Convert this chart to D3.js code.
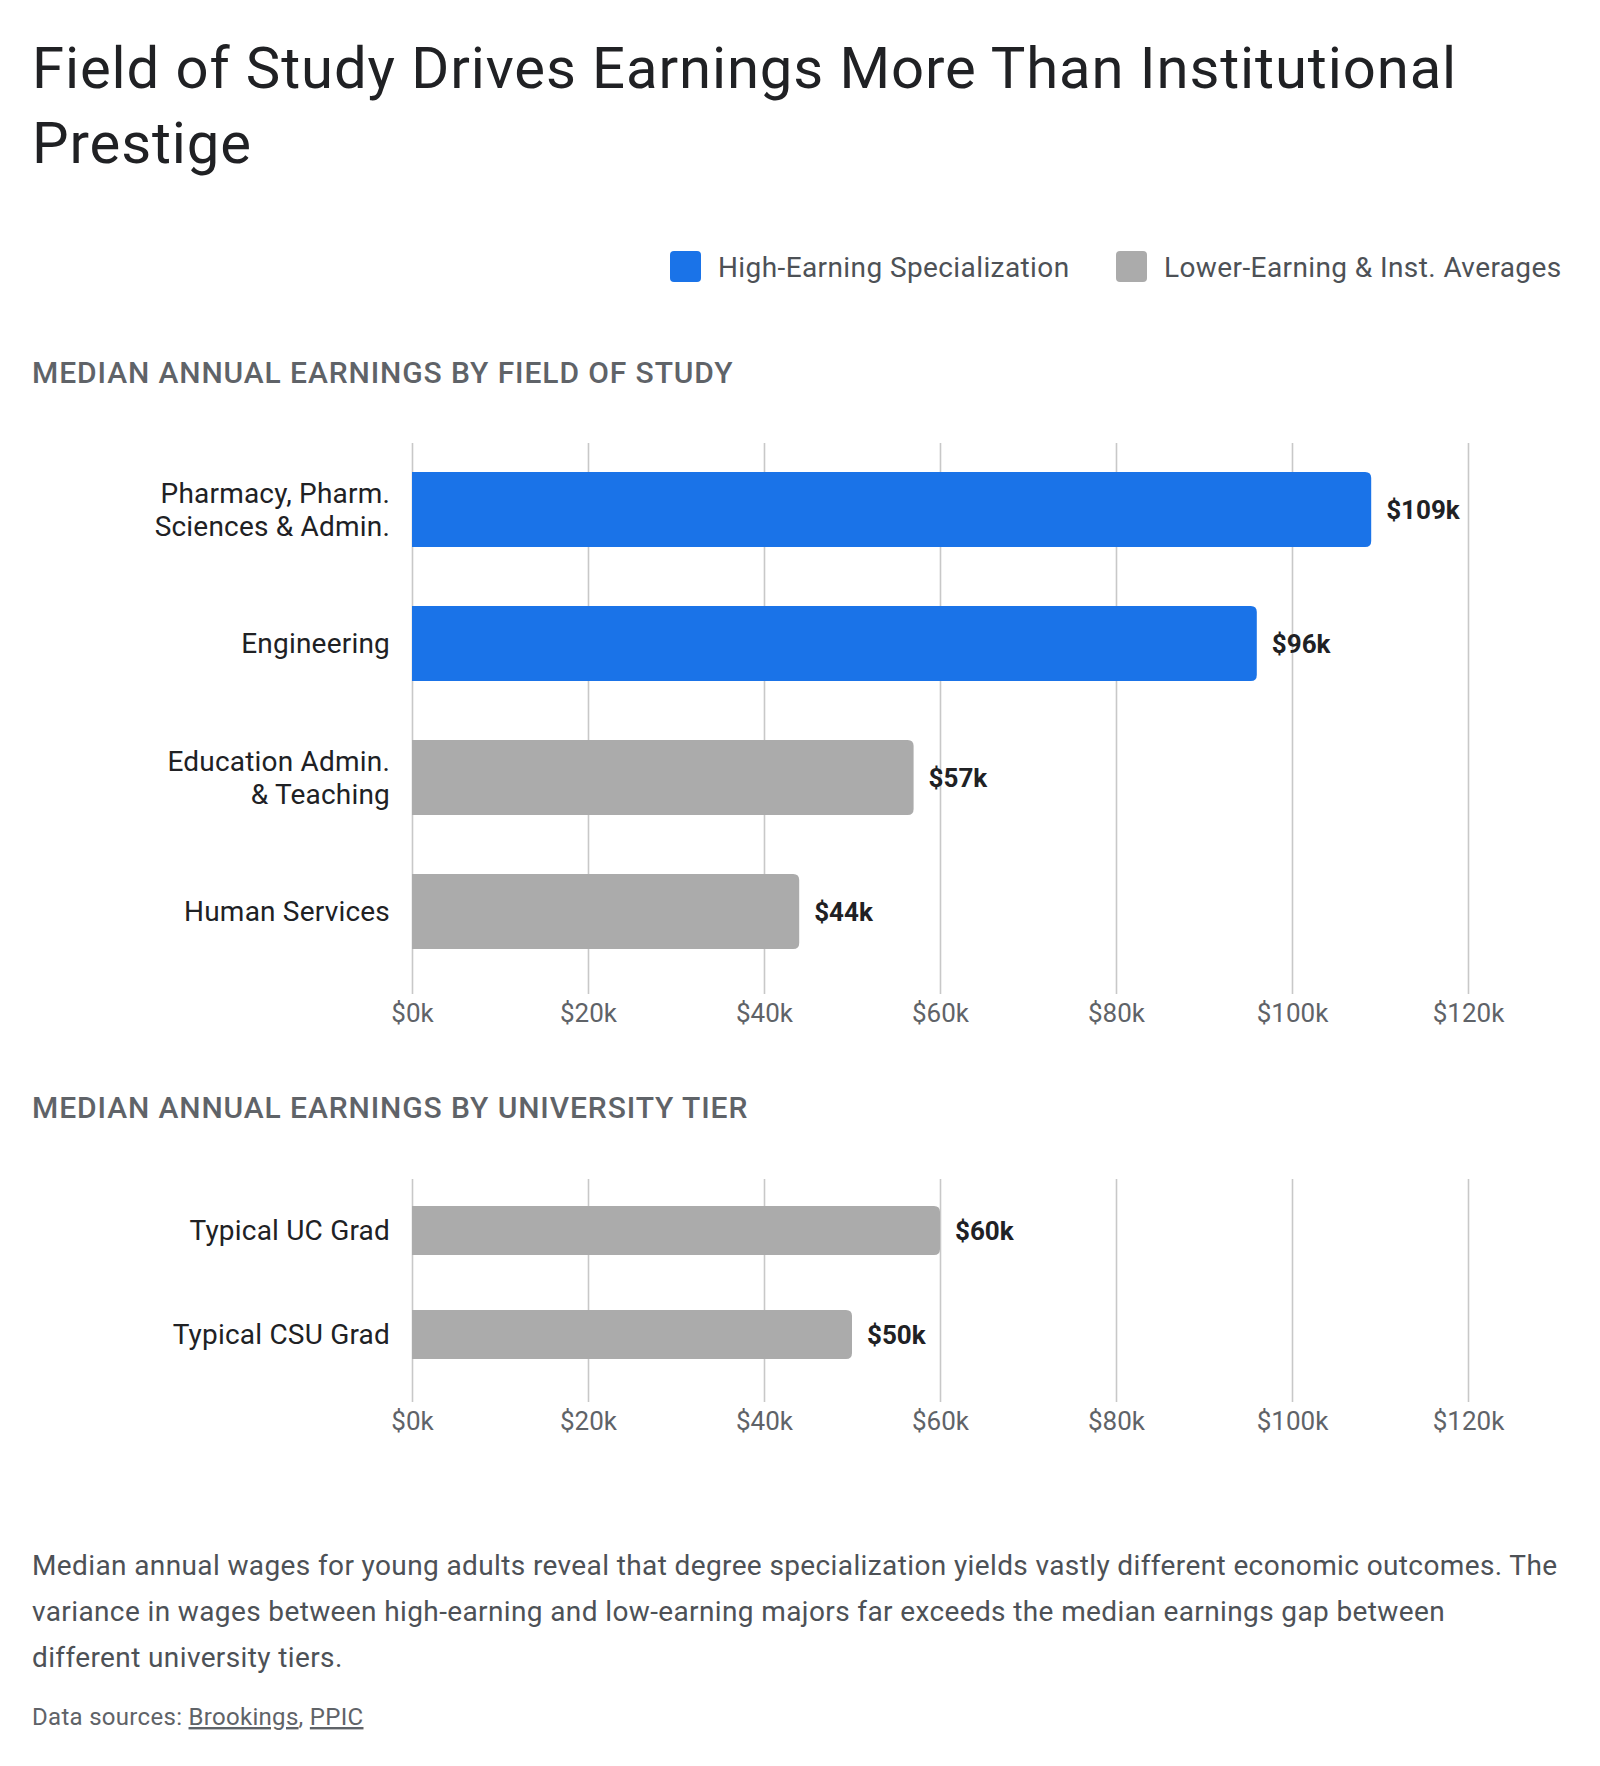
<!DOCTYPE html>
<html>
<head>
<meta charset="utf-8">
<script src="https://cdn.jsdelivr.net/npm/d3@7"></script>
<style>
  html, body { margin: 0; padding: 0; background: #ffffff; }
  svg text { font-family: Roboto, "Noto Sans", sans-serif; }
</style>
</head>
<body>
<div id="chart"></div>
<script>
// ---- data ----
var fieldCategories = ["Pharmacy, Pharm. Sciences & Admin.", "Engineering", "Education Admin. & Teaching", "Human Services"];
var fieldLabelLines = [["Pharmacy, Pharm.", "Sciences & Admin."], ["Engineering"], ["Education Admin.", "& Teaching"], ["Human Services"]];
var fieldValues = [109000, 96000, 57000, 44000];
var fieldGroups = ["high", "high", "low", "low"];

var tierCategories = ["Typical UC Grad", "Typical CSU Grad"];
var tierLabelLines = [["Typical UC Grad"], ["Typical CSU Grad"]];
var tierValues = [60000, 50000];
var tierGroups = ["low", "low"];

var tickValues = [0, 20000, 40000, 60000, 80000, 100000, 120000];
var legendKeys = ["high", "low"];
var legendLabels = ["High-Earning Specialization", "Lower-Earning & Inst. Averages"];

var titleLines = ["Field of Study Drives Earnings More Than Institutional", "Prestige"];
var panelTitles = ["MEDIAN ANNUAL EARNINGS BY FIELD OF STUDY", "MEDIAN ANNUAL EARNINGS BY UNIVERSITY TIER"];
var noteLines = [
    "Median annual wages for young adults reveal that degree specialization yields vastly different economic outcomes. The",
    "variance in wages between high-earning and low-earning majors far exceeds the median earnings gap between",
    "different university tiers."
];
var sourceLinks = ["Brookings", "PPIC"];

// ---- layout ----
var svgWidth = 1600;
var svgHeight = 1766;
var plotLeft = 412;
var plotRight = 1468;

var color = d3.scaleOrdinal().domain(legendKeys).range(["#1a73e8", "#ababab"]);
var fmt = function(d) { return "$" + (d / 1000) + "k"; };

var svg = d3.select("#chart")
    .append("svg")
    .attr("width", svgWidth)
    .attr("height", svgHeight);

svg.append("rect").attr("width", svgWidth).attr("height", svgHeight).attr("fill", "#ffffff");

// title
svg.append("g").selectAll("text")
    .data(titleLines)
    .enter()
    .append("text")
    .attr("x", 32)
    .attr("y", (d, i) => 88 + i * 75)
    .attr("font-size", 58)
    .attr("letter-spacing", 0.9)
    .attr("fill", "#202124")
    .text(d => d);

// legend
var legendX = [670, 1116];
var legend = svg.append("g").selectAll("g")
    .data(legendKeys)
    .enter()
    .append("g")
    .attr("transform", (d, i) => `translate(${legendX[i]}, 251)`);
legend.append("rect")
    .attr("width", 31)
    .attr("height", 31)
    .attr("rx", 4)
    .attr("fill", d => color(d));
legend.append("text")
    .attr("x", 48)
    .attr("y", 16)
    .attr("dy", "0.35em")
    .attr("font-size", 28)
    .attr("letter-spacing", 0.4)
    .attr("fill", "#4d5156")
    .text((d, i) => legendLabels[i]);

// rounded right end bar
function barPath(x0, y, w, h, r) {
    r = Math.min(r, w, h / 2);
    return `M${x0},${y}H${x0 + w - r}Q${x0 + w},${y} ${x0 + w},${y + r}` +
        `V${y + h - r}Q${x0 + w},${y + h} ${x0 + w - r},${y + h}H${x0}Z`;
}

function drawPanel(title, titleY, cats, labelLines, values, groups, yTop, yBottom, padIn, padOut) {
    svg.append("text")
        .attr("x", 32)
        .attr("y", titleY)
        .attr("font-size", 30)
        .attr("letter-spacing", 0.9)
        .attr("font-weight", 500)
        .attr("fill", "#5f6368")
        .text(title);

    var x = d3.scaleLinear().domain([0, 120000]).range([plotLeft, plotRight]);
    var y = d3.scaleBand().domain(cats).range([yTop, yBottom])
        .paddingInner(padIn).paddingOuter(padOut);

    var axis = d3.axisBottom(x)
        .tickValues(tickValues)
        .tickSize(-(yBottom + 16 - yTop))
        .tickPadding(10)
        .tickFormat(fmt);

    var axisG = svg.append("g")
        .attr("transform", `translate(0, ${yBottom + 16})`)
        .call(axis);
    axisG.select(".domain").remove();
    axisG.selectAll(".tick line").attr("stroke", "#c8c8c8").attr("stroke-width", 1.6);
    axisG.selectAll(".tick text")
        .attr("font-family", "Roboto, sans-serif")
        .attr("font-size", 26)
        .attr("fill", "#5f6368");

    var rows = svg.append("g").selectAll("g")
        .data(cats)
        .enter()
        .append("g");

    rows.append("path")
        .attr("d", (d, i) => barPath(x(0), y(d), x(values[i]) - x(0), y.bandwidth(), 6))
        .attr("fill", (d, i) => color(groups[i]));

    rows.append("text")
        .attr("x", (d, i) => x(values[i]) + 15)
        .attr("y", d => y(d) + y.bandwidth() / 2)
        .attr("dy", "0.35em")
        .attr("font-size", 26)
        .attr("font-weight", 700)
        .attr("fill", "#202124")
        .text((d, i) => fmt(values[i]));

    var lbl = rows.append("text")
        .attr("text-anchor", "end")
        .attr("font-size", 28)
        .attr("letter-spacing", 0.2)
        .attr("fill", "#202124");
    lbl.selectAll("tspan")
        .data((d, i) => labelLines[i].map((t, j, arr) => ({ t: t, j: j, n: arr.length, c: d })))
        .enter()
        .append("tspan")
        .attr("x", 390)
        .attr("y", d => y(d.c) + y.bandwidth() / 2 + (d.j - (d.n - 1) / 2) * 33)
        .attr("dy", "0.35em")
        .text(d => d.t);
}

drawPanel(panelTitles[0], 383, fieldCategories, fieldLabelLines, fieldValues, fieldGroups, 443, 978, 0.44, 0.2164);
drawPanel(panelTitles[1], 1118, tierCategories, tierLabelLines, tierValues, tierGroups, 1179, 1386, 0.529, 0.26);

// note
svg.append("g").selectAll("text")
    .data(noteLines)
    .enter()
    .append("text")
    .attr("x", 32)
    .attr("y", (d, i) => 1575 + i * 46)
    .attr("font-size", 28)
    .attr("letter-spacing", 0.38)
    .attr("fill", "#4d5156")
    .text(d => d);

// sources
var src = svg.append("text")
    .attr("x", 32)
    .attr("y", 1725)
    .attr("font-size", 24)
    .attr("letter-spacing", 0.3)
    .attr("fill", "#5f6368");
src.append("tspan").text("Data sources: ");
sourceLinks.forEach(function(s, i) {
    src.append("tspan").attr("text-decoration", "underline").text(s);
    if (i < sourceLinks.length - 1) src.append("tspan").text(", ");
});
</script>
</body>
</html>
